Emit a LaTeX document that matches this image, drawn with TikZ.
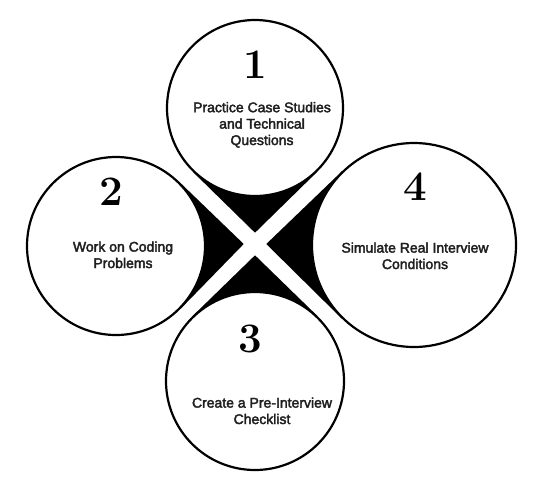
\documentclass[tikz,border=0pt]{standalone}
\usepackage{fontspec}
\newfontfamily\labfont[FakeBold=2.6]{Liberation Sans}
\usetikzlibrary{calc}
\pgfdeclarelayer{bg}
\pgfdeclarelayer{tails}
\pgfsetlayers{bg,tails,main}
\begin{document}
\begin{tikzpicture}[x=1pt,y=-1pt,
  ring/.style={circle,draw=black,fill=white,line width=2.2pt,inner sep=0pt},
  num/.style={font=\fontsize{42}{42}\selectfont\bfseries,anchor=base,inner sep=0pt},
  lab/.style={font=\labfont\fontsize{14}{16.4}\selectfont,align=center,anchor=base,inner sep=0pt,text=black!88},
  tailfill/.style={fill=black}]
\begin{pgfonlayer}{bg}
\fill[white] (0,0) rectangle (545,490);
\end{pgfonlayer}
\useasboundingbox (0,0) rectangle (545,490);
% tips of the four drops
\coordinate (t1) at (255,232.7);
\coordinate (t2) at (243.7,244);
\coordinate (t3) at (255,255.3);
\coordinate (t4) at (266.3,244);
% circles
\node[ring,minimum size=176pt] (c1) at (255,108) {};
\node[ring,minimum size=178pt] (c2) at (116,246) {};
\node[ring,minimum size=178pt] (c3) at (255,381) {};
\node[ring,minimum size=204pt] (c4) at (414,245) {};
% tails
\begin{pgfonlayer}{tails}
\foreach \i in {1,2,3,4}{
  \fill[tailfill] (t\i) -- (tangent cs:node=c\i,point={(t\i)},solution=1)
    -- (tangent cs:node=c\i,point={(t\i)},solution=2) -- cycle;
}
\end{pgfonlayer}
% numbers
\node[num] (n1) at (255,78) {1};
\node[num] (n2) at (111,205) {2};
\node[num] (n3) at (250,352) {3};
\node[num] (n4) at (415,200) {4};
% labels (base anchor = baseline of the last line)
\node[lab] (l1) at (262,145) {Practice Case Studies\\and Technical\\Questions};
\node[lab] (l2) at (123,268) {Work on Coding\\Problems};
\node[lab] (l3) at (262,424) {Create a Pre-Interview\\Checklist};
\node[lab] (l4) at (415,269) {Simulate Real Interview\\Conditions};
\end{tikzpicture}
\end{document}
